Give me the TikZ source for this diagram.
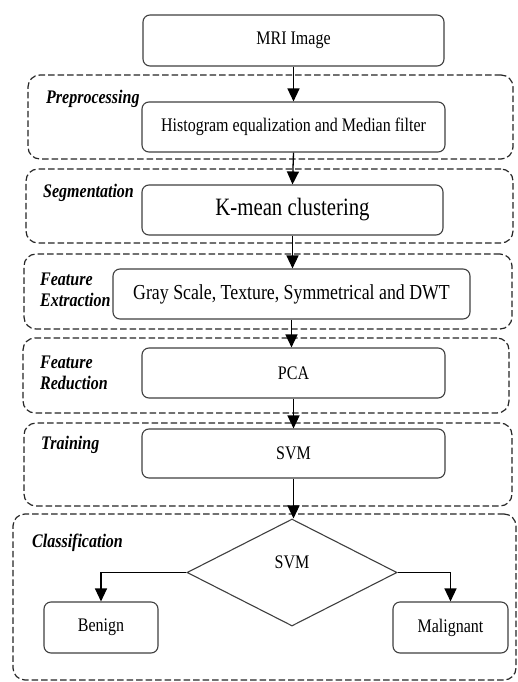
\documentclass[tikz,border=0pt]{standalone}
\usepackage{fontspec}
\setmainfont{Liberation Serif}
\usetikzlibrary{arrows.meta,shapes.geometric}
\newcommand{\vs}[1]{\scalebox{1}[1.2]{#1}}
\begin{document}
\begin{tikzpicture}[x=1pt,y=-1pt,
  box/.style={draw=black!75, line width=1.1pt, rounded corners=7pt, inner sep=0pt, fill=white,
    font=\fontsize{16}{18}\selectfont},
  grp/.style={draw=black!85, line width=1.2pt, dash pattern=on 6.5pt off 3pt, rounded corners=12pt, inner sep=0pt},
  lab/.style={font=\fontsize{16}{21}\selectfont\bfseries\itshape, align=left, anchor=west, inner sep=0pt},
  arr/.style={line width=1.3pt, -{Triangle[length=13pt,width=12pt]}}]
\useasboundingbox (0,0) rectangle (517,682);
\fill[white] (0,0) rectangle (517,682);
% group frames
\node[grp, minimum width=485, minimum height=84] (gpre) at (270.5,117) {};
\node[grp, minimum width=487, minimum height=74] (gseg) at (269.5,206) {};
\node[grp, minimum width=488, minimum height=75] (gfe) at (268,291.5) {};
\node[grp, minimum width=486, minimum height=75] (gfr) at (266,375.5) {};
\node[grp, minimum width=488, minimum height=83] (gtr) at (268,464.5) {};
\node[grp, minimum width=503, minimum height=166] (gcl) at (264.5,597) {};
% labels
\node[lab] (lpre) at (46,99) {\vs{Preprocessing}};
\node[lab] (lseg) at (43,193) {\vs{Segmentation}};
\node[lab] (lfe) at (40,290) {\vs{Feature}\\\vs{Extraction}};
\node[lab] (lfr) at (40,373) {\vs{Feature}\\\vs{Reduction}};
\node[lab] (ltr) at (41,445) {\vs{Training}};
\node[lab] (lcl) at (32,543) {\vs{Classification}};
% boxes
\node[box, minimum width=301, minimum height=51] (mri) at (293.5,40.5) {\vs{MRI Image}};
\node[box, minimum width=303, minimum height=50] (hist) at (293.5,127) {\vs{Histogram equalization and Median filter}};
\node[box, minimum width=301, minimum height=50, font=\fontsize{20.8}{24}\selectfont] (kmc) at (292.5,210) {\vs{K-mean clustering}};
\node[box, minimum width=357, minimum height=50, font=\fontsize{17.8}{20}\selectfont] (gray) at (291.5,294) {\vs{Gray Scale, Texture, Symmetrical and DWT}};
\node[box, minimum width=303, minimum height=50] (pca) at (293.5,373) {\vs{PCA}};
\node[box, minimum width=303, minimum height=49] (svm) at (293.5,453.5) {\vs{SVM}};
\node[diamond, draw=black!75, line width=1.1pt, fill=white, aspect=2, minimum width=210, minimum height=107, inner sep=0pt,
  label={[font=\fontsize{16}{18}\selectfont, yshift=10pt]center:\vs{SVM}}] (dec) at (292,572.5) {};
\node[box, minimum width=114, minimum height=51] (ben) at (101,627.5) {\vs{Benign}};
\node[box, minimum width=115, minimum height=51] (mal) at (450.5,627.5) {\vs{Malignant}};
% arrows
\draw[arr] (mri.south) -- (hist.north);
\draw[arr] (hist.south) -- (kmc.north);
\draw[arr] (kmc.south) -- (kmc.south |- gray.north);
\draw[arr] (gray.south) -- (gray.south |- pca.north);
\draw[arr] (pca.south) -- (svm.north);
\draw[arr] (svm.south) -- (svm.south |- dec.north);
\draw[arr] (dec.west) -| (ben.north);
\draw[arr] (dec.east) -| (mal.north);
\end{tikzpicture}
\end{document}
